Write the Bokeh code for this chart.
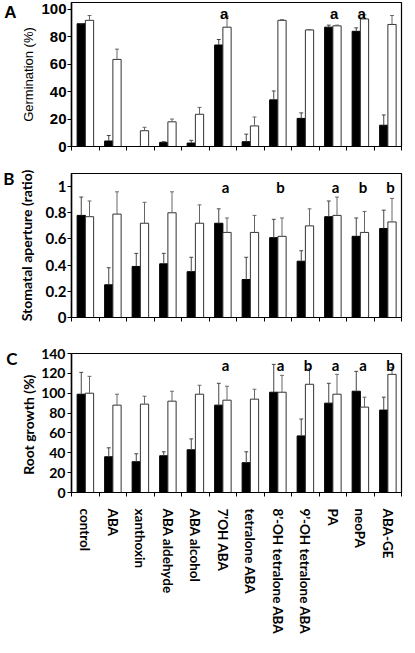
from bokeh.plotting import figure
from bokeh.layouts import column
from bokeh.models import Range1d, FixedTicker, LinearAxis
from bokeh.embed import file_html
from bokeh.resources import INLINE
from bokeh.core.properties import value

categories = ["control", "ABA", "xanthoxin", "ABA aldehyde", "ABA alcohol", "7'OH ABA",
              "tetralone ABA", "8\u2019-OH tetralone ABA", "9\u2019-OH tetralone ABA",
              "PA", "neoPA", "ABA-GE"]

# Panel A: Germination (%)
germ_black = [89.5, 4, 0, 3, 2.5, 74, 3.5, 34, 20.5, 87, 84, 15.5]
germ_black_err = [0, 4, 0, 0.5, 2, 4, 5.5, 6.5, 4, 1.5, 2.5, 7.5]
germ_white = [92, 63.5, 11.5, 18, 23.5, 87, 15, 92, 85, 88, 93, 89]
germ_white_err = [3.5, 7.5, 2.5, 2, 5, 8, 6.5, 0.5, 0.3, 0.5, 3, 6.5]
germ_sig_idx = [5, 9, 10]
germ_sig_txt = ["a", "a", "a"]

# Panel B: Stomatal aperture (ratio)
stom_black = [0.78, 0.25, 0.39, 0.41, 0.35, 0.72, 0.29, 0.61, 0.43, 0.77, 0.62, 0.68]
stom_black_err = [0.14, 0.13, 0.10, 0.08, 0.11, 0.11, 0.17, 0.14, 0.08, 0.12, 0.14, 0.14]
stom_white = [0.77, 0.79, 0.72, 0.80, 0.72, 0.65, 0.65, 0.62, 0.70, 0.78, 0.65, 0.73]
stom_white_err = [0.12, 0.17, 0.16, 0.16, 0.14, 0.11, 0.13, 0.14, 0.13, 0.14, 0.16, 0.18]
stom_sig_idx = [5, 7, 9, 10, 11]
stom_sig_txt = ["a", "b", "a", "b", "b"]

# Panel C: Root growth (%)
root_black = [99, 36, 31, 37, 43, 88, 30, 101, 57, 90, 102, 83]
root_black_err = [22, 9, 8, 4, 11, 22, 11, 28, 17, 20, 20, 13]
root_white = [100, 88, 89, 92, 99, 93, 94, 101, 109, 99, 86, 119]
root_white_err = [17, 11, 8, 10, 9, 14, 10, 17, 16, 20, 10, 7]
root_sig_idx = [5, 7, 8, 9, 10, 11]
root_sig_txt = ["a", "a", "b", "a", "a", "b"]

germ_ticks = [0, 20, 40, 60, 80, 100]
stom_ticks = [0, 0.2, 0.4, 0.6, 0.8, 1.0]
root_ticks = [0, 20, 40, 60, 80, 100, 120, 140]

N = len(categories)
xb = [i + 0.355 for i in range(N)]
xw = [i + 0.655 for i in range(N)]
bounds = list(range(N + 1))
centers = [i + 0.5 for i in range(N)]
BW = 0.3
CAP = 0.07


def panel(height, bl, br, bt, bb, ymax, yticks, black, berr, white, werr,
          sig_idx, sig_txt, sig_y, sig_dx, ylabel, ylab_font,
          ylab_size, ylab_style, ylab_standoff, tick_font, tick_size, tick_standoff,
          letter, ly, letter_font, letter_standoff, show_x_labels=False):
    p = figure(width=407, height=height, x_range=Range1d(0, N), y_range=Range1d(0, ymax),
               output_backend="svg", toolbar_location=None,
               min_border_left=bl, min_border_right=br, min_border_top=bt,
               min_border_bottom=bb, background_fill_color="white",
               border_fill_color="white", outline_line_color="black",
               outline_line_width=1.2)
    p.xgrid.visible = False
    p.ygrid.visible = False
    p.vbar(x=xb, top=black, width=BW, bottom=0, fill_color="black", line_color="black",
           line_width=1)
    p.vbar(x=xw, top=white, width=BW, bottom=0, fill_color="white", line_color="#333333",
           line_width=1)
    for xs, vals, errs, col in ((xb, black, berr, "#444444"), (xw, white, werr, "#666666")):
        tops = [v + e for v, e in zip(vals, errs)]
        p.segment(x0=xs, y0=vals, x1=xs, y1=tops, line_color=col, line_width=1)
        p.segment(x0=[x - CAP for x in xs], y0=tops, x1=[x + CAP for x in xs], y1=tops,
                  line_color=col, line_width=1)
    p.text(x=[i + sig_dx for i in sig_idx], y=[sig_y] * len(sig_idx), text=sig_txt,
           text_font=value(tick_font), text_font_style="bold", text_font_size="15px",
           text_align="center", text_baseline="middle", text_color="black")

    ya = p.yaxis[0]
    ya.ticker = FixedTicker(ticks=yticks)
    ya.minor_tick_line_color = None
    ya.major_tick_out = 4
    ya.major_tick_in = 0
    ya.major_label_standoff = tick_standoff
    ya.axis_line_width = 1.5
    ya.axis_line_color = "black"
    ya.major_tick_line_color = "black"
    ya.major_label_text_font = tick_font
    ya.major_label_text_font_style = "bold"
    ya.major_label_text_font_size = tick_size
    ya.major_label_text_color = "black"
    ya.axis_label = ylabel
    ya.axis_label_text_font = ylab_font
    ya.axis_label_text_font_size = ylab_size
    ya.axis_label_text_font_style = ylab_style
    ya.axis_label_text_color = "black"
    ya.axis_label_standoff = ylab_standoff

    # panel letter: an extra left axis (outermost) with a single labelled tick
    la = LinearAxis(ticker=FixedTicker(ticks=[ly]), major_label_overrides={ly: letter},
                    axis_line_color=None, major_tick_line_color=None,
                    minor_tick_line_color=None, major_tick_out=0, major_tick_in=0,
                    major_label_standoff=letter_standoff,
                    major_label_text_font=letter_font, major_label_text_font_style="bold",
                    major_label_text_font_size="17px", major_label_text_color="black")
    p.add_layout(la, "left")

    xa = p.xaxis[0]
    xa.axis_line_color = "black"
    xa.axis_line_width = 1
    if show_x_labels:
        xa.ticker = FixedTicker(ticks=centers, minor_ticks=bounds)
        xa.major_label_overrides = {c: name for c, name in zip(centers, categories)}
        xa.major_tick_out = 0
        xa.major_tick_in = 0
        xa.major_label_orientation = "vertical"
        xa.major_label_standoff = 12
        xa.major_label_text_font = "Lato"
        xa.major_label_text_font_style = "bold"
        xa.major_label_text_font_size = "13.5px"
        xa.major_label_text_color = "black"
    else:
        xa.ticker = FixedTicker(ticks=[], minor_ticks=bounds)
        xa.major_tick_line_color = None
    xa.minor_tick_out = 4
    xa.minor_tick_in = 0
    xa.minor_tick_line_color = "black"
    return p


pA = panel(160, 70, 3, 2, 14, 105, germ_ticks, germ_black, germ_black_err, germ_white,
           germ_white_err, germ_sig_idx, germ_sig_txt, 97, 0.55, "Germination (%)",
           "Liberation Sans", "13px", "normal", 2,
           "Liberation Sans", "15px", 1, "A", 101, "Liberation Sans", 2)

pB = panel(173, 68, 6, 13, 16, 1.1, stom_ticks, stom_black, stom_black_err, stom_white,
           stom_white_err, stom_sig_idx, stom_sig_txt, 1.0, 0.6, "Stomatal aperture (ratio)",
           "Lato", "14px", "bold", 8,
           "Lato", "15px", 1, "B", 1.06, "Lato", 0)

pC = panel(304, 65, 6, 20, 140, 140, root_ticks, root_black, root_black_err, root_white,
           root_white_err, root_sig_idx, root_sig_txt, 128, 0.6, "Root  growth (%)",
           "Lato", "14px", "bold", 1,
           "Lato", "14px", 2, "C", 134.5, "Lato", 0, show_x_labels=True)

layout = column(pA, pB, pC, spacing=0)
open("out.html", "w").write(file_html(layout, INLINE))
